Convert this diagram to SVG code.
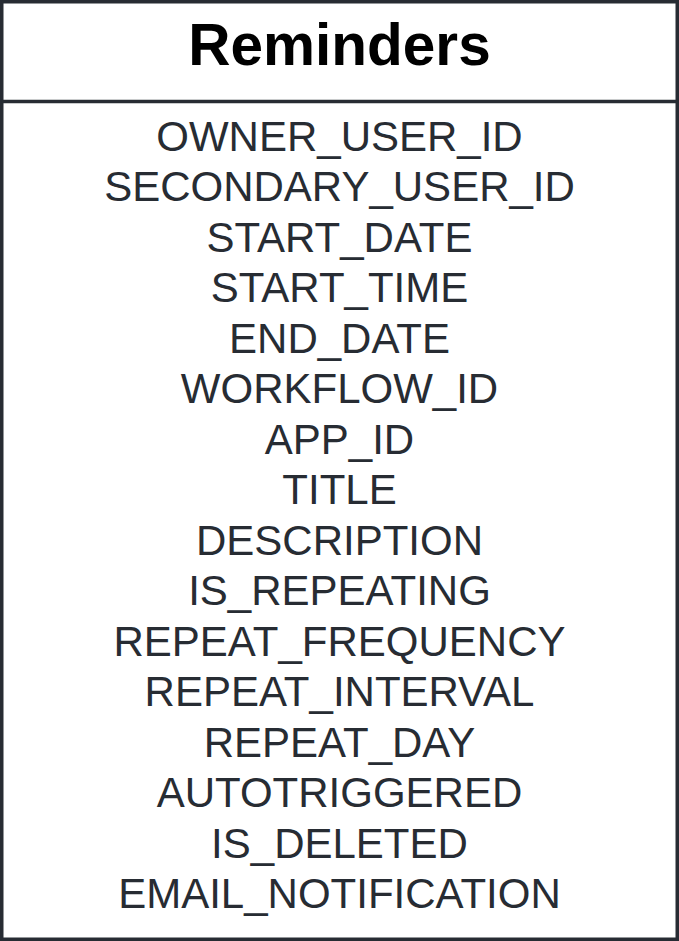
<svg xmlns="http://www.w3.org/2000/svg" width="679" height="941" viewBox="0 0 679 941">
<style>
.box{fill:#ffffff;stroke:#272c33;stroke-width:3.5}
.div{stroke:#272c33;stroke-width:3.5}
.title{font-family:"Liberation Sans",Arial,sans-serif;font-weight:bold;font-size:58.5px;fill:#000000;text-anchor:middle}
.f{font-family:"Liberation Sans",Arial,sans-serif;font-size:42px;fill:#272c33;text-anchor:middle}
</style>
<g id="reminders">
<rect class="box" x="1.75" y="1.75" width="675.5" height="937.5"/>
<line class="div" x1="1.75" y1="101.5" x2="677.25" y2="101.5"/>
<text class="title" x="339.5" y="65">Reminders</text>
<text class="f" x="339.5" y="150.5">OWNER_USER_ID</text>
<text class="f" x="339.5" y="201">SECONDARY_USER_ID</text>
<text class="f" x="339.5" y="251.5">START_DATE</text>
<text class="f" x="339.5" y="302">START_TIME</text>
<text class="f" x="339.5" y="352.5">END_DATE</text>
<text class="f" x="339.5" y="403">WORKFLOW_ID</text>
<text class="f" x="339.5" y="453.5">APP_ID</text>
<text class="f" x="339.5" y="504">TITLE</text>
<text class="f" x="339.5" y="554.5">DESCRIPTION</text>
<text class="f" x="339.5" y="605">IS_REPEATING</text>
<text class="f" x="339.5" y="655.5">REPEAT_FREQUENCY</text>
<text class="f" x="339.5" y="706">REPEAT_INTERVAL</text>
<text class="f" x="339.5" y="756.5">REPEAT_DAY</text>
<text class="f" x="339.5" y="807">AUTOTRIGGERED</text>
<text class="f" x="339.5" y="857.5">IS_DELETED</text>
<text class="f" x="339.5" y="907.5">EMAIL_NOTIFICATION</text>
</g>
<g id="connectors"/>
</svg>
